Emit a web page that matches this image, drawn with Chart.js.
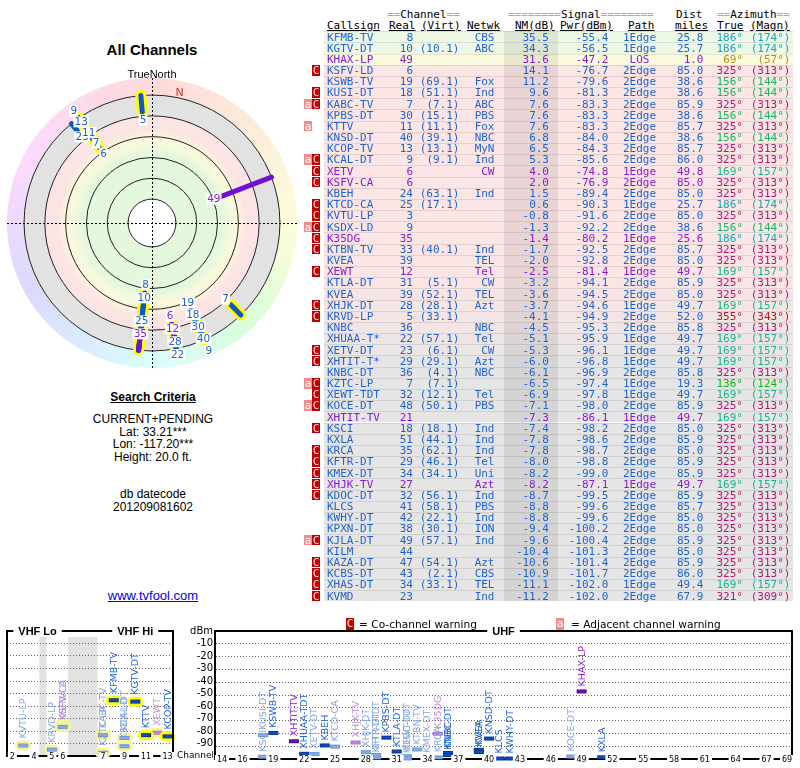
<!DOCTYPE html>
<html><head><meta charset="utf-8"><title>All Channels</title>
<script src="https://cdn.jsdelivr.net/npm/chart.js@4.4.1/dist/chart.umd.min.js"></script>
<style>
html,body{margin:0;padding:0;background:#fff;}
body{width:800px;height:768px;position:relative;overflow:hidden;font-family:"Liberation Sans",Arial,sans-serif;color:#000;}
.a{position:absolute;white-space:pre;}
.m{font-family:"DejaVu Sans Mono",monospace;font-size:11px;line-height:11.2px;height:11.2px;}
.g{color:#a8a8a8;}
.r{text-align:right;width:120px;}
.c{text-align:center;width:120px;}
.u{text-decoration:underline;}
.bC{background:#c00000;color:#ffd6d6;width:8px;text-align:center;overflow:hidden;}
.bA{background:#f08c8c;color:#fff;width:8px;text-align:center;overflow:hidden;}
.ctr{text-align:center;width:220px;font-size:12px;line-height:12.5px;}
canvas{position:absolute;}
</style></head>
<body>
<canvas id="polarChart" width="305" height="315" style="left:0;top:60px;width:305px;height:315px"></canvas>
<canvas id="vhfChart" width="213" height="153" style="left:0;top:615px;width:213px;height:153px"></canvas>
<canvas id="uhfChart" width="590" height="153" style="left:210px;top:615px;width:590px;height:153px"></canvas>
<script>
// ---------------- DATA ----------------
const callsigns = ['KFMB-TV','KGTV-DT','KHAX-LP','KSFV-LD','KSWB-TV','KUSI-DT','KABC-TV','KPBS-DT','KTTV','KNSD-DT','KCOP-TV','KCAL-DT','XETV','KSFV-CA','KBEH','KTCD-CA','KVTU-LP','KSDX-LD','K35DG','KTBN-TV','KVEA','XEWT','KTLA-DT','KVEA','XHJK-DT','KRVD-LP','KNBC','XHUAA-T*','XETV-DT','XHTIT-T*','KNBC-DT','KZTC-LP','XEWT-TDT','KOCE-DT','XHTIT-TV','KSCI','KXLA','KRCA','KFTR-DT','KMEX-DT','XHJK-TV','KDOC-DT','KLCS','KWHY-DT','KPXN-DT','KJLA-DT','KILM','KAZA-DT','KCBS-DT','XHAS-DT','KVMD'];
const realChannels = [8,10,49,6,19,18,7,30,11,40,13,9,6,6,24,25,3,9,35,33,39,12,31,39,28,5,36,22,23,29,36,7,32,48,21,18,51,35,29,34,27,32,41,42,38,49,44,47,43,34,23];
const virtualChannels = ['','10.1','','','69.1','51.1','7.1','15.1','11.1','39.1','13.1','9.1','','','63.1','17.1','','','','40.1','','','5.1','52.1','28.1','33.1','','57.1','6.1','29.1','4.1','7.1','12.1','50.1','','18.1','44.1','62.1','46.1','34.1','','56.1','58.1','22.1','30.1','57.1','','54.1','2.1','33.1',''];
const networks = ['CBS','ABC','','','Fox','Ind','ABC','PBS','Fox','NBC','MyN','Ind','CW','','Ind','','','','','Ind','TEL','Tel','CW','TEL','Azt','','NBC','Tel','CW','Azt','NBC','','Tel','PBS','','Ind','Ind','Ind','Tel','Uni','Azt','Ind','PBS','Ind','ION','Ind','','Azt','CBS','TEL','Ind'];
const noiseMarginDb = [35.5,34.3,31.6,14.1,11.2,9.6,7.6,7.6,7.6,6.8,6.5,5.3,4.0,2.0,1.5,0.6,-0.8,-1.3,-1.4,-1.7,-2.0,-2.5,-3.2,-3.6,-3.7,-4.1,-4.5,-5.1,-5.3,-6.0,-6.1,-6.5,-6.9,-7.1,-7.3,-7.4,-7.8,-7.8,-8.0,-8.2,-8.2,-8.7,-8.8,-8.8,-9.4,-9.6,-10.4,-10.6,-10.9,-11.1,-11.2];
const powerDbm = [-55.4,-56.5,-47.2,-76.7,-79.6,-81.3,-83.3,-83.3,-83.3,-84.0,-84.3,-85.6,-74.8,-76.9,-89.4,-90.3,-91.6,-92.2,-80.2,-92.5,-92.8,-81.4,-94.1,-94.5,-94.6,-94.9,-95.3,-95.9,-96.1,-96.8,-96.9,-97.4,-97.8,-98.0,-86.1,-98.2,-98.6,-98.7,-98.8,-99.0,-87.1,-99.5,-99.6,-99.6,-100.2,-100.4,-101.3,-101.4,-101.7,-102.0,-102.0];
const paths = ['1Edge','1Edge','LOS','2Edge','2Edge','2Edge','2Edge','2Edge','2Edge','2Edge','2Edge','2Edge','1Edge','2Edge','2Edge','1Edge','2Edge','2Edge','1Edge','2Edge','2Edge','1Edge','2Edge','2Edge','1Edge','2Edge','2Edge','1Edge','1Edge','1Edge','2Edge','1Edge','1Edge','2Edge','1Edge','2Edge','2Edge','2Edge','2Edge','2Edge','1Edge','2Edge','2Edge','2Edge','2Edge','2Edge','2Edge','2Edge','2Edge','1Edge','2Edge'];
const distanceMiles = [25.8,25.7,1.0,85.0,38.6,38.6,85.9,38.6,85.7,38.6,85.7,86.0,49.8,85.0,85.0,25.7,85.0,38.6,25.6,85.7,85.0,49.7,85.9,85.0,49.7,52.0,85.8,49.7,49.7,49.7,85.8,19.3,49.7,85.9,49.7,85.0,85.9,85.0,85.9,85.9,49.7,85.9,85.7,85.0,85.0,85.9,85.0,85.9,86.0,49.4,67.9];
const azimuthTrue = [186,186,69,325,156,156,325,156,325,156,325,325,169,325,325,186,325,156,186,325,325,169,325,325,169,355,325,169,169,169,325,136,169,325,169,325,325,325,325,325,169,325,325,325,325,325,325,325,325,169,321];
const azimuthMagnetic = [174,174,57,313,144,144,313,144,313,144,313,313,157,313,313,174,313,144,174,313,313,157,313,313,157,343,313,157,157,157,313,124,157,313,157,313,313,313,313,313,157,313,313,313,313,313,313,313,313,157,309];
const signalTypes = ['D','D','A','D','D','D','D','D','D','D','D','D','A','A','D','D','D','D','A','D','D','A','D','D','D','D','D','D','D','D','D','D','D','D','A','D','D','D','D','D','A','D','D','D','D','D','D','D','D','D','D'];
const warnings = ['','','','C','','C','aC','','a','','','aC','C','C','','C','C','aC','C','C','','C','','','C','C','','','C','C','','aC','C','aC','','C','','C','C','C','C','C','','','','aC','','C','C','C','C'];
const vhfTickChannels = [2,4,5,6,7,9,11,13];
const uhfTickChannels = [14,16,19,22,25,28,31,34,37,40,43,46,49,52,55,58,61,64,67,69];
const dbmTicks = [0,-10,-20,-30,-40,-50,-60,-70,-80,-90,-100];
const nmRings = [60,40,20,0,-20];

// ---------------- HELPERS ----------------
Chart.defaults.font.family = '"DejaVu Sans", Verdana, sans-serif';
const BLUE = '#1f63d2', PURPLE = '#8a1ad6';
function hueForAz(az){ az=((az%360)+360)%360; if(az<=90) return az*2/3; if(az<=180) return 60+(az-90)*4/3; return az; }
function azColor(az){ return `hsl(${hueForAz(az).toFixed(0)},78%,40%)`; }
function textColor(i){ return signalTypes[i]==='A' ? PURPLE : BLUE; }
function rowBg(nm){
  if (nm >= 33) return '#eef8e6';
  if (nm >= 20) return '#fbfbe0';
  const t = Math.min(1, Math.max(0, (-nm - 3.0)/3.2));
  const p=[251,229,229], q=[229,229,229];
  return `rgb(${p.map((v,k)=>Math.round(v+(q[k]-v)*t)).join(',')})`;
}
function addDiv(cls, x, y, html, style){
  const d=document.createElement('div'); d.className='a '+cls;
  d.style.left=x+'px'; d.style.top=y+'px';
  if(style) Object.assign(d.style, style);
  d.innerHTML=html; document.body.appendChild(d); return d;
}

// ---------------- LEFT TEXT ----------------
addDiv('', 42, 41, 'All Channels', {width:'220px',textAlign:'center',fontWeight:'bold',fontSize:'15px',lineHeight:'18px'});
addDiv('', 42, 67, 'TrueNorth', {width:'220px',textAlign:'center',fontSize:'11px',lineHeight:'14px'});
addDiv('ctr', 43, 391, '<b><u>Search Criteria</u></b>');
addDiv('ctr', 43, 413, 'CURRENT+PENDING<br>Lat: 33.21***<br>Lon: -117.20***<br>Height: 20.0 ft.');
addDiv('ctr', 43, 488, 'db datecode<br>201209081602');
addDiv('ctr', 43, 590, '<span style="color:#0000ee;text-decoration:underline;font-size:13px">www.tvfool.com</span>');

// ---------------- TABLE ----------------
const ROW_TOP = 31.2, ROW_H = 11.18;
addDiv('m', 387, 8.6, '<span class="g">==</span>Channel<span class="g">==</span>');
addDiv('m', 508, 8.6, '<span class="g">========</span>Signal<span class="g">========</span>');
addDiv('m', 676, 8.6, 'Dist');
addDiv('m', 717, 8.6, '<span class="g">==</span>Azimuth<span class="g">==</span>');
[['Callsign',327],['Real',389],['(Virt)',421],['Netwk',467],['NM(dB)',515],['Pwr(dBm)',560],['Path',628],['miles',675],['True',717],['(Magn)',750]]
  .forEach(([t,x])=>addDiv('m u', x, 19.8, t));
callsigns.forEach((cs,i)=>{
  const y = ROW_TOP + i*ROW_H;
  addDiv('', 324, y, '', {width:'469px',height:ROW_H+'px',background:rowBg(noiseMarginDb[i]),borderTop:'1px solid rgba(0,0,0,0.09)',boxSizing:'border-box'});
});
addDiv('', 504, ROW_TOP, '', {width:'54px',height:(ROW_H*callsigns.length)+'px',background:'rgba(0,0,0,0.075)'});
callsigns.forEach((cs,i)=>{
  const y = ROW_TOP + i*ROW_H + 0.3;
  const col = textColor(i);
  const w = warnings[i];
  if (w.includes('C')) addDiv('m bC', 312, y, 'C', {height:'10.5px'});
  if (w.includes('a')) addDiv('m bA', 304, y, 'a', {height:'10.5px'});
  addDiv('m', 327, y, cs, {color:col});
  addDiv('m r', 413-120, y, String(realChannels[i]), {color:col});
  if (virtualChannels[i]) addDiv('m r', 459.5-120, y, '('+virtualChannels[i]+')', {color:col});
  if (networks[i]) addDiv('m r', 494.5-120, y, networks[i], {color:col});
  addDiv('m r', 549-120, y, noiseMarginDb[i].toFixed(1), {color:col});
  addDiv('m r', 608.5-120, y, powerDbm[i].toFixed(1), {color:col});
  addDiv('m c', 639.5-60, y, paths[i], {color:col});
  addDiv('m r', 703.5-120, y, distanceMiles[i].toFixed(1), {color:col});
  const ac = azColor(azimuthTrue[i]);
  addDiv('m r', 743-120, y, azimuthTrue[i]+'°', {color:ac});
  addDiv('m r', 790.5-120, y, '('+azimuthMagnetic[i]+'°)', {color:ac});
});

// legend of warnings
addDiv('m bC', 346, 618, 'C', {height:'12px',lineHeight:'12px'});
addDiv('', 359, 617, '= Co-channel warning', {fontFamily:'"DejaVu Sans"',fontSize:'10.6px',lineHeight:'14px'});
addDiv('m bA', 556, 618, 'a', {height:'12px',lineHeight:'12px'});
addDiv('', 571, 617, '= Adjacent channel warning', {fontFamily:'"DejaVu Sans"',fontSize:'10.6px',lineHeight:'14px'});

// ---------------- POLAR CHART ----------------
const RHO_IN = 23, RHO_EDGE = 123, RHO_MAX = 139.4;
const rhoOf = nm => RHO_IN + (80 - nm);
const polarDatasets = [];
callsigns.forEach((cs,i)=>{
  const a = azimuthTrue[i]*Math.PI/180;
  const r1 = rhoOf(noiseMarginDb[i]);
  const pts = [{x:r1*Math.sin(a), y:r1*Math.cos(a)}, {x:RHO_EDGE*Math.sin(a), y:RHO_EDGE*Math.cos(a)}];
  if (realChannels[i] <= 13) polarDatasets.push({data:pts, showLine:true, borderColor:'#ffff00', borderWidth:11, borderCapStyle:'round', pointRadius:0, order:5000, clip:false});
  polarDatasets.push({data:pts, showLine:true, borderColor: signalTypes[i]==='A' ? '#7010d0' : '#0a56d0', borderWidth:5, borderCapStyle:'round', pointRadius:0, order:1000-i, clip:false});
});
const polarBg = {
  id:'polarBg',
  beforeDatasetsDraw(chart){
    const ctx=chart.ctx, xs=chart.scales.x, ys=chart.scales.y;
    const cx=xs.getPixelForValue(0), cy=ys.getPixelForValue(0), k=xs.getPixelForValue(1)-cx;
    const rE=RHO_EDGE*k, rM=RHO_MAX*k;
    ctx.save();
    for (let a=0;a<360;a+=3){
      const a0=(a-90)*Math.PI/180, a1=(a+3-90)*Math.PI/180+0.01;
      ctx.beginPath(); ctx.arc(cx,cy,rM,a0,a1); ctx.arc(cx,cy,rE,a1,a0,true); ctx.closePath();
      ctx.fillStyle=`hsl(${hueForAz(a+1.5).toFixed(0)},92%,92.5%)`; ctx.fill();
    }
    const g=ctx.createRadialGradient(cx,cy,0,cx,cy,rE);
    const st = nm => rhoOf(nm)/RHO_EDGE;
    g.addColorStop(0,'#e3f8dc'); g.addColorStop(st(36),'#e3f8dc');
    g.addColorStop(st(26),'#f9f9dc'); g.addColorStop(st(20),'#fcf6dc');
    g.addColorStop(st(13),'#fde4e4'); g.addColorStop(st(0.05),'#fde4e4');
    g.addColorStop(st(0),'#e2e2e2'); g.addColorStop(1,'#e2e2e2');
    ctx.beginPath(); ctx.arc(cx,cy,rE,0,Math.PI*2); ctx.fillStyle=g; ctx.fill();
    ctx.beginPath(); ctx.arc(cx,cy,RHO_IN*k,0,Math.PI*2); ctx.fillStyle='#fff'; ctx.fill();
    ctx.strokeStyle='#222'; ctx.lineWidth=1;
    [RHO_IN, ...nmRings.map(rhoOf)].forEach(r=>{ ctx.beginPath(); ctx.arc(cx,cy,r*k,0,Math.PI*2); ctx.stroke(); });
    ctx.setLineDash([2,2]); ctx.strokeStyle='#000';
    ctx.beginPath(); ctx.moveTo(xs.getPixelForValue(-RHO_MAX),cy+0.5); ctx.lineTo(xs.getPixelForValue(RHO_MAX),cy+0.5);
    ctx.moveTo(cx+0.5,ys.getPixelForValue(RHO_MAX)); ctx.lineTo(cx+0.5,ys.getPixelForValue(-RHO_MAX)); ctx.stroke();
    ctx.restore();
  }
};
const polarLabels = {
  id:'polarLabels',
  afterDatasetsDraw(chart){
    const ctx=chart.ctx, xs=chart.scales.x, ys=chart.scales.y;
    const cx=xs.getPixelForValue(0), cy=ys.getPixelForValue(0), k=xs.getPixelForValue(1)-cx;
    ctx.save(); ctx.font='10.5px "DejaVu Sans"'; ctx.textAlign='center'; ctx.textBaseline='middle';
    const groups={};
    callsigns.forEach((c,i)=>{ (groups[azimuthTrue[i]] ||= []).push(i); });
    Object.keys(groups).forEach(az=>{
      const a=az*Math.PI/180; let prev=-1e9;
      groups[az].forEach(i=>{
        const r=Math.max(rhoOf(noiseMarginDb[i])*k-8, prev+13); prev=r;
        if (r>141) return;
        const x=cx+r*Math.sin(a), y=cy-r*Math.cos(a);
        const t=String(realChannels[i]); const w=ctx.measureText(t).width+2;
        ctx.fillStyle='#fff'; ctx.fillRect(x-w/2,y-5.5,w,11);
        ctx.fillStyle=textColor(i); ctx.fillText(t,x,y+0.5);
      });
    });
    const decl=(azimuthTrue[0]-azimuthMagnetic[0])*Math.PI/180, rn=133;
    ctx.fillStyle='#e03030'; ctx.font='11px "DejaVu Sans"';
    ctx.fillText('N', cx+rn*Math.sin(decl), cy-rn*Math.cos(decl));
    ctx.restore();
  }
};
new Chart(document.getElementById('polarChart'), {
  type:'scatter',
  data:{datasets:polarDatasets},
  options:{responsive:false, animation:false, events:[],
    layout:{padding:{left:7,right:8,top:18,bottom:7}},
    plugins:{legend:{display:false}, tooltip:{enabled:false}},
    scales:{x:{type:'linear',min:-RHO_MAX,max:RHO_MAX,display:false}, y:{type:'linear',min:-RHO_MAX,max:RHO_MAX,display:false}}},
  plugins:[polarBg, polarLabels]
});

// ---------------- BAND CHARTS ----------------
const VHF_GAP = 16.4;
function vhfFreq(ch){ if(ch<=4) return 57+6*(ch-2); if(ch<=6) return 79+6*(ch-5); return 177+6*(ch-7); }
function vhfPos(f){ return f<=88 ? f : f-174+88+VHF_GAP; }
const STY = {
  D:{fill:'#0a4fc4',stroke:'#063390',text:'#1f63d2',halo:'#ffff00'},
  DL:{fill:'#86aee8',stroke:'#6d94d2',text:'#80a4e4',halo:'#f7f39c'},
  A:{fill:'#6c10c4',stroke:'#4a0890',text:'#8a1ad6',halo:'#ffff00'},
  AL:{fill:'#c08ae6',stroke:'#a272cc',text:'#c08ae0',halo:'#f7f39c'}
};
function styleKey(i){ return (signalTypes[i]==='A'?'A':'D') + (warnings[i].includes('C')?'L':''); }
function bottomLabel(i){ return callsigns[i].replace('-T*','-TDT'); }
function barImage(key, halo){
  const c=document.createElement('canvas'); c.width=18; c.height=12; const g=c.getContext('2d');
  if (halo){ g.fillStyle=STY[key].halo; g.beginPath(); g.moveTo(6,1); g.lineTo(12,1); g.arc(12,6,5,-Math.PI/2,Math.PI/2); g.lineTo(6,11); g.arc(6,6,5,Math.PI/2,Math.PI*1.5); g.fill(); }
  g.fillStyle=STY[key].fill; g.fillRect(4,4,10,4);
  g.strokeStyle=STY[key].stroke; g.lineWidth=1; g.strokeRect(4.5,4.5,9,3);
  return c;
}
function bandDatasets(filter, pos){
  const groups={};
  callsigns.forEach((c,i)=>{
    if(!filter(i) || powerDbm[i] < -100) return;
    const key=styleKey(i), halo=realChannels[i]<=13, gk=key+(halo?'H':'');
    (groups[gk] ||= {key,halo,data:[]}).data.push({x:pos(realChannels[i]), y:powerDbm[i], idx:i});
  });
  return Object.values(groups).map(g=>({data:g.data, pointStyle:barImage(g.key,g.halo), pointRadius:4, showLine:false, clip:false}));
}
const stationLabels = {
  id:'stationLabels',
  afterDatasetsDraw(chart){
    const ctx=chart.ctx; ctx.save(); ctx.font='9.5px "DejaVu Sans"'; ctx.textBaseline='middle'; ctx.textAlign='left';
    chart.data.datasets.forEach(ds=>ds.data.forEach(p=>{
      const x=chart.scales.x.getPixelForValue(p.x), y=chart.scales.y.getPixelForValue(p.y);
      ctx.save(); ctx.translate(x+0.5, y-(realChannels[p.idx]<=13?7:5)); ctx.rotate(-Math.PI/2);
      ctx.fillStyle=STY[styleKey(p.idx)].text; ctx.fillText(bottomLabel(p.idx),0,0); ctx.restore();
    }));
    ctx.restore();
  }
};
// frame (box borders with titles) + channel tick labels sitting on the axis line
function framePlugin(getTitles, tickChannels, leftBorder, rightBorder, extra){
  return { id:'frame', afterDraw(chart){
    const ctx=chart.ctx, {left,right,top,bottom}=chart.chartArea;
    ctx.save(); ctx.strokeStyle='#000'; ctx.lineWidth=2;
    ctx.font='bold 11px "Liberation Sans", Arial'; ctx.textAlign='center'; ctx.textBaseline='middle';
    const titles=getTitles(chart);
    let segs=[[left-1,right+1]];
    titles.forEach(t=>{ const w=ctx.measureText(t.text).width/2+5; const a=t.x-w, b=t.x+w;
      segs=segs.flatMap(([s,e])=>{ const out=[]; if(a>s) out.push([s,Math.min(e,a)]); if(b<e) out.push([Math.max(s,b),e]); return out.filter(z=>z[1]>z[0]); }); });
    ctx.beginPath();
    segs.forEach(([s,e])=>{ ctx.moveTo(s,top); ctx.lineTo(e,top); });
    if (leftBorder){ ctx.moveTo(left,top-1); ctx.lineTo(left,bottom+1); }
    if (rightBorder){ ctx.moveTo(right,top-1); ctx.lineTo(right,bottom+1); }
    ctx.stroke();
    ctx.fillStyle='#000'; titles.forEach(t=>ctx.fillText(t.text,t.x,top+1));
    // tick labels from the x scale's own ticks
    const xs=chart.scales.x;
    ctx.font='8px "DejaVu Sans"'; ctx.textAlign='center'; ctx.textBaseline='middle';
    xs.ticks.forEach((tk,idx)=>{
      const x=xs.getPixelForValue(tk.value); const t=String(tickChannels[idx]);
      const w=ctx.measureText(t).width+4;
      ctx.fillStyle='#fff'; ctx.fillRect(x-w/2, bottom-4, w, 8);
      ctx.fillStyle='#000'; ctx.fillText(t, x, bottom+0.5);
    });
    if (extra) extra(chart);
    ctx.restore();
  }};
}
const gridColor = c => (c.tick && c.tick.value > -100 && c.tick.value < 0) ? '#666' : 'rgba(0,0,0,0)';
const yBase = {type:'linear', min:-100, max:0, afterBuildTicks:s=>{ s.ticks=dbmTicks.map(v=>({value:v})); },
  grid:{color:gridColor, lineWidth:1, drawTicks:false}, border:{display:true,color:'#000',width:2,dash:[1,2]}};

const vhfShade = { id:'vhfShade', beforeDraw(chart){
  const ctx=chart.ctx, xs=chart.scales.x, {top,bottom}=chart.chartArea;
  ctx.save(); ctx.fillStyle='#e2e2e2';
  [[72,76],[88,88+VHF_GAP]].forEach(([a,b])=>{ const x0=xs.getPixelForValue(a), x1=xs.getPixelForValue(b); ctx.fillRect(x0, top+6, x1-x0, bottom-top-6); });
  ctx.restore();
}};
new Chart(document.getElementById('vhfChart'), {
  type:'scatter',
  data:{datasets:bandDatasets(i=>realChannels[i]<=13, ch=>vhfPos(vhfFreq(ch)))},
  options:{responsive:false, animation:false, events:[],
    layout:{padding:{left:7,right:0,top:16,bottom:9}},
    plugins:{legend:{display:false}, tooltip:{enabled:false}},
    scales:{
      x:{type:'linear', min:54, max:vhfPos(216), afterFit:s=>{s.height=0;},
         afterBuildTicks:s=>{ s.ticks=vhfTickChannels.map(ch=>({value:vhfPos(vhfFreq(ch))})); },
         ticks:{display:false, autoSkip:false},
         grid:{display:false, drawTicks:false}, border:{display:true,color:'#000',width:2}},
      y:{...yBase, position:'right', afterFit:s=>{s.width=40;},
         ticks:{autoSkip:false, font:{size:10, lineHeight:1}, color:'#000', crossAlign:'far', padding:7, callback:v=> v===0?'dBm':(v===-100?'':String(v))}}
    }},
  plugins:[vhfShade, stationLabels, framePlugin(ch=>{ const xs=ch.scales.x; return [
      {text:'VHF Lo', x:xs.getPixelForValue((54+88)/2)},
      {text:'VHF Hi', x:xs.getPixelForValue((88+VHF_GAP+vhfPos(216))/2)}]; }, vhfTickChannels, true, true,
    ch=>{ const c=ch.ctx; c.font='9px "DejaVu Sans"'; c.textAlign='left'; c.textBaseline='middle'; c.fillStyle='#000'; c.fillText('Channel', ch.chartArea.right+4, ch.chartArea.bottom); })]
});
new Chart(document.getElementById('uhfChart'), {
  type:'scatter',
  data:{datasets:bandDatasets(i=>realChannels[i]>13, ch=>ch)},
  options:{responsive:false, animation:false, events:[],
    layout:{padding:{left:3,right:8,top:16,bottom:9}},
    plugins:{legend:{display:false}, tooltip:{enabled:false}},
    scales:{
      x:{type:'linear', min:13.32, max:69.48, afterFit:s=>{s.height=0;},
         afterBuildTicks:s=>{ s.ticks=uhfTickChannels.map(ch=>({value:ch})); },
         ticks:{display:false, autoSkip:false},
         grid:{display:false, drawTicks:false}, border:{display:true,color:'#000',width:2}},
      y:{...yBase, position:'left', afterFit:s=>{s.width=0;}, ticks:{display:false}}
    }},
  plugins:[stationLabels, framePlugin(ch=>[{text:'UHF', x:(ch.chartArea.left+ch.chartArea.right)/2}], uhfTickChannels, false, true)]
});
</script>
</body></html>
